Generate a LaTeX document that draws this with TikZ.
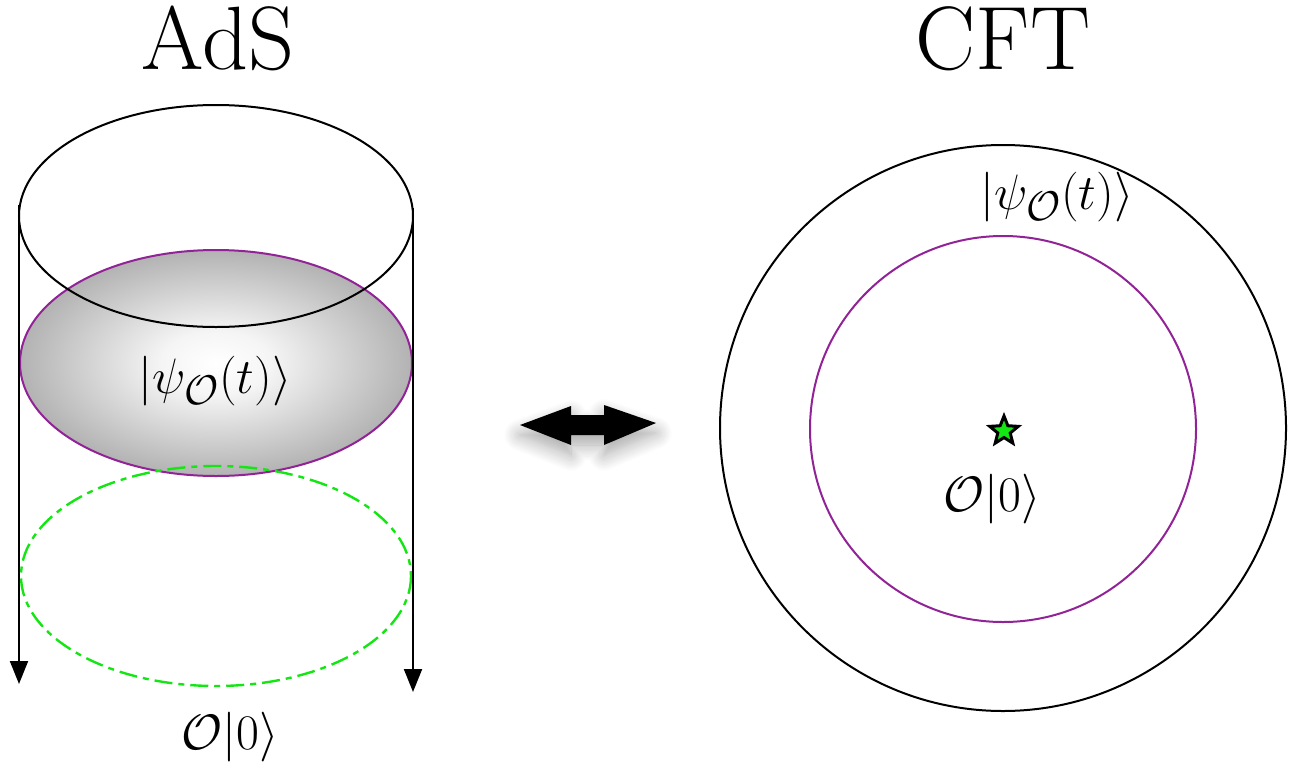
\documentclass[tikz,border=0pt]{standalone}
\usetikzlibrary{shapes.geometric,shadows.blur,arrows.meta}
\definecolor{mypurple}{RGB}{145,35,150}
\definecolor{mygreen}{RGB}{20,230,20}
\pgfdeclareradialshading{myrad}{\pgfpoint{0bp}{0bp}}{color(0bp)=(white); color(7bp)=(white!96!black); color(25bp)=(black!30); color(50bp)=(black!30)}
\tikzset{
  blk/.style={line width=1pt, draw=black},
  titletext/.style={font=\fontsize{45}{50}\selectfont, anchor=base, inner sep=0pt},
  mathtext/.style={font=\fontsize{32}{36}\selectfont, anchor=base, inner sep=0pt},
  vline/.style={line width=1pt, -{Triangle[length=11.5pt,width=9pt]}},
}
\begin{document}
\begin{tikzpicture}[x=0.5pt,y=-0.5pt]
\useasboundingbox (0,0) rectangle (1294,771);
% titles
\node[titletext] (ads) at (218,69) {AdS};
\node[titletext] (cft) at (1003,69) {CFT};
% AdS cylinder
\path[shading=myrad, draw=mypurple, line width=1pt] (216,363) ellipse [x radius=196, y radius=113];
\draw[blk] (216,216) ellipse [x radius=197, y radius=111];
\draw[mygreen, line width=1.2pt, dash pattern=on 9pt off 3pt on 3pt off 3pt] (216,576) ellipse [x radius=195, y radius=110];
\coordinate (lt) at (19,205);
\coordinate (lb) at (19,684);
\coordinate (rt) at (413,208);
\coordinate (rb) at (413,692);
\draw[vline] (lt) -- (lb);
\draw[vline] (rt) -- (rb);
\node[mathtext] (psiA) at (215,393) {$|\psi_{\mathcal{O}}(t)\rangle$};
\node[mathtext] (oA) at (230,749) {$\mathcal{O}|0\rangle$};
% double arrow
\fill[black, blur shadow={shadow xshift=0pt, shadow yshift=-5pt, shadow blur radius=8pt, shadow blur steps=12, shadow opacity=35}]
  (520,425) -- (571,406) -- (571,415) -- (604,415) -- (604,405) -- (656,423)
  -- (604,445) -- (604,435) -- (571,435) -- (571,445) -- cycle;
% CFT
\draw[blk] (1003,428) circle [radius=283];
\draw[mypurple, line width=1pt] (1003,429) circle [radius=193];
\node[star, star points=5, star point ratio=2.3, draw=black, fill=mygreen, line width=1.5pt, minimum size=15pt, inner sep=0pt] (st) at (1004,431) {};
\node[mathtext] (oC) at (992,511) {$\mathcal{O}|0\rangle$};
\node[mathtext] (psiC) at (1057,209) {$|\psi_{\mathcal{O}}(t)\rangle$};
\end{tikzpicture}
\end{document}
